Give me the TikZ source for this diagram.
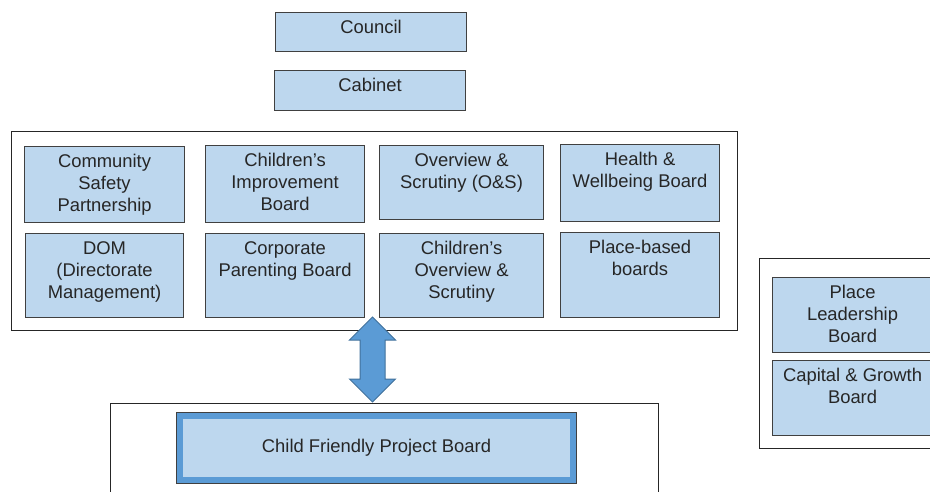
\documentclass[tikz,border=0pt]{standalone}
\usepackage{fontspec}
\setmainfont{Liberation Sans}
\usetikzlibrary{shapes.arrows}
\definecolor{boxfill}{HTML}{BDD7EE}
\definecolor{boxline}{HTML}{404040}
\definecolor{arrowfill}{HTML}{5B9BD5}
\definecolor{arrowline}{HTML}{41719C}
\definecolor{txt}{HTML}{262626}
% text block: width, height, lines (set from the top)
\newcommand{\btxt}[3]{\parbox[c][#2pt][t]{#1pt}{\centering\vspace*{5.2pt}\strut #3}}

\begin{document}
\begin{tikzpicture}[x=1pt, y=-1pt,
	board/.style={draw=boxline, fill=boxfill, line width=1.1pt, inner sep=0pt, anchor=north west, text=txt, font=\fontsize{18.4}{22}\selectfont},
	frame/.style={draw=black!85, line width=1pt, inner sep=0pt, anchor=north west}]
\useasboundingbox (0,0) rectangle (930,492);

% frames
\node[frame, minimum width=726pt, minimum height=199pt] (grp) at (11,131) {};
\node[frame, minimum width=548pt, minimum height=100pt] (proj) at (110,403) {};
\node[frame, minimum width=190pt, minimum height=190pt] (place) at (759,258) {};

% top
\node[board] (council) at (275,12) {\btxt{191}{39}{Council}};
\node[board] (cabinet) at (274,70) {\btxt{191}{40}{Cabinet}};

% row 1
\node[board] (csp) at (24,146) {\btxt{160}{76}{Community\\Safety\\Partnership}};
\node[board] (cib) at (205,145) {\btxt{159}{77}{Children’s\\Improvement\\Board}};
\node[board] (os)  at (379,145) {\btxt{164}{74}{Overview \&\\Scrutiny (O\&S)}};
\node[board] (hwb) at (560,144) {\btxt{159}{77}{Health \&\\Wellbeing Board}};
% row 2
\node[board] (dom) at (25,233)  {\btxt{158}{84}{DOM\\(Directorate\\Management)}};
\node[board] (cpb) at (205,233) {\btxt{159}{84}{Corporate\\Parenting Board}};
\node[board] (cos) at (379,233) {\btxt{164}{84}{Children’s\\Overview \&\\Scrutiny}};
\node[board] (pbb) at (560,232) {\btxt{159}{85}{Place-based\\boards}};

% right
\node[board] (plb) at (772,277) {\btxt{160}{75}{Place\\Leadership\\Board}};
\node[board] (cgb) at (772,360) {\btxt{160}{75}{Capital \& Growth\\Board}};

% link
\node[double arrow, draw=arrowline, fill=arrowfill, line width=1pt, rotate=90,
	minimum height=85pt, double arrow head extend=10.5pt,
	inner xsep=0pt, inner ysep=12pt] (link) at (372.5,359.5) {};

\node[board, anchor=center, draw=arrowfill, line width=6pt,
	preaction={draw=boxline, line width=7.6pt},
	minimum width=393pt, minimum height=64pt] (cfpb) at (376.5,448) {Child Friendly Project Board};
\end{tikzpicture}
\end{document}
